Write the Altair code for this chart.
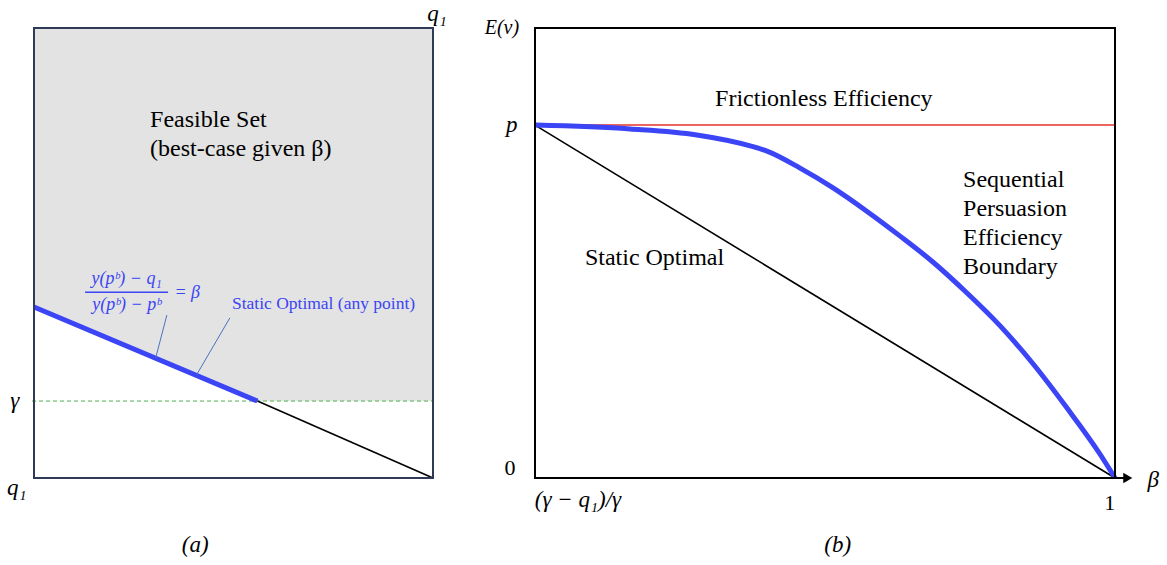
import altair as alt
import pandas as pd

# ---------------- data (chart units) ----------------
# Panel (a): x in [0,1] across the box, y in [0,1] from q1 (bottom) to top
A_GAMMA = 0.171
A_BLUE_X = [0.0, 0.56]
A_BLUE_Y = [0.38, 0.171]
A_BLACK_X = [0.56, 1.0]
A_BLACK_Y = [0.171, 0.0]
A_AREA_X = [0.0, 0.56, 1.0]
A_AREA_Y = [0.38, 0.171, 0.171]
A_LEAD_X1 = [0.333, 0.491]
A_LEAD_Y1 = [0.362, 0.356]
A_LEAD_X2 = [0.305, 0.408]
A_LEAD_Y2 = [0.267, 0.230]

# Panel (b): x from (gamma-q1)/gamma (0) to 1, y with p = 1
B_YMAX = 1.275
B_P = 1.0
B_STATIC_X = [0.0, 1.0]
B_STATIC_Y = [1.0, 0.0]
B_SEQ_X = [0.0, 0.164, 0.279, 0.371, 0.400, 0.457, 0.514, 0.572, 0.629, 0.686, 0.743, 0.802, 0.859, 0.916, 0.974, 1.0]
B_SEQ_Y = [1.0, 0.989, 0.972, 0.941, 0.926, 0.878, 0.822, 0.756, 0.686, 0.612, 0.527, 0.431, 0.323, 0.201, 0.068, 0.0]

BLUE = "#3b45f5"
SERIF = "Liberation Serif"
MATH = "Liberation Serif"

RA_X = [34, 433]
RB_X = [535, 1115]
R_Y = [478, 28]


def xs(panel):
    return alt.Scale(domain=[0, 1], range=RA_X if panel == "a" else RB_X, nice=False, zero=False)


def ys(panel):
    dom = [0, 1] if panel == "a" else [0, B_YMAX]
    return alt.Scale(domain=dom, range=R_Y, nice=False, zero=False)


def enc(panel, x="x", y="y", x2=None, y2=None, order=False):
    e = dict(
        x=alt.X(f"{x}:Q", scale=xs(panel), axis=None),
        y=alt.Y(f"{y}:Q", scale=ys(panel), axis=None),
    )
    if x2:
        e["x2"] = alt.X2(f"{x2}:Q")
    if y2:
        e["y2"] = alt.Y2(f"{y2}:Q")
    if order:
        e["order"] = alt.Order("i:Q")
    return e


def line_df(xv, yv):
    return pd.DataFrame({"x": xv, "y": yv, "i": list(range(len(xv)))})


def text_layer(panel, rows, size, color="black", font=SERIF, style="normal", align="center"):
    df = pd.DataFrame(rows, columns=["x", "y", "t"])
    return alt.Chart(df).mark_text(
        font=font, fontSize=size, color=color, fontStyle=style, align=align, baseline="middle"
    ).encode(text="t:N", **enc(panel))


layers = []

# ---------- panel (a) ----------
area_df = pd.DataFrame({"x": A_AREA_X, "y": A_AREA_Y, "top": [1.0] * len(A_AREA_X)})
layers.append(alt.Chart(area_df).mark_area(color="#e3e3e3").encode(**enc("a", y2="top")))

layers.append(
    alt.Chart(pd.DataFrame({"x": [-0.005], "x2": [1.0], "y": [A_GAMMA]}))
    .mark_rule(color="#4caf50", strokeDash=[4, 3], strokeWidth=1)
    .encode(**enc("a", x2="x2"))
)
layers.append(
    alt.Chart(line_df(A_BLACK_X, A_BLACK_Y)).mark_line(color="black", strokeWidth=1.6).encode(**enc("a", order=True))
)
layers.append(
    alt.Chart(line_df(A_BLUE_X, A_BLUE_Y)).mark_line(color=BLUE, strokeWidth=5).encode(**enc("a", order=True))
)
lead_df = pd.DataFrame({"x": A_LEAD_X1, "y": A_LEAD_Y1, "x2": A_LEAD_X2, "y2": A_LEAD_Y2})
layers.append(alt.Chart(lead_df).mark_rule(color="#4a72c0", strokeWidth=1).encode(**enc("a", x2="x2", y2="y2")))
layers.append(
    alt.Chart(pd.DataFrame({"x": [0.128], "x2": [0.336], "y": [0.413]}))
    .mark_rule(color=BLUE, strokeWidth=1.5)
    .encode(**enc("a", x2="x2"))
)
layers.append(
    alt.Chart(pd.DataFrame({"x": [0.0], "x2": [1.0], "y": [0.0], "y2": [1.0]}))
    .mark_rect(fill=None, fillOpacity=0, stroke="#2e3a57", strokeWidth=2)
    .encode(**enc("a", x2="x2", y2="y2"))
)
layers.append(
    text_layer("a", [(0.291, 0.796, "Feasible Set"), (0.291, 0.731, "(best-case given β)")], 24, align="left")
)
layers.append(
    text_layer(
        "a",
        [(0.232, 0.442, "y(pᵇ) − q₁"), (0.232, 0.385, "y(pᵇ) − pᵇ")],
        18, color=BLUE, font=MATH, style="italic",
    )
)
layers.append(
    text_layer("a", [(0.352, 0.411, "= β")], 18, color=BLUE, font=MATH, style="italic", align="left")
)
layers.append(text_layer("a", [(0.496, 0.387, "Static Optimal (any point)")], 17.5, color=BLUE, align="left"))
layers.append(
    text_layer(
        "a",
        [(1.01, 1.031, "q₁"), (-0.048, 0.171, "γ"), (-0.043, -0.022, "q₁"), (0.404, -0.149, "(a)")],
        23, font=MATH, style="italic",
    )
)

# ---------- panel (b) ----------
layers.append(
    alt.Chart(pd.DataFrame({"x": [0.0], "x2": [1.0], "y": [B_P]}))
    .mark_rule(color="#e8322b", strokeWidth=1.6)
    .encode(**enc("b", x2="x2"))
)
layers.append(
    alt.Chart(line_df(B_STATIC_X, B_STATIC_Y)).mark_line(color="black", strokeWidth=1.6).encode(**enc("b", order=True))
)
layers.append(
    alt.Chart(line_df(B_SEQ_X, B_SEQ_Y))
    .mark_line(color=BLUE, strokeWidth=5, interpolate="monotone")
    .encode(**enc("b", order=True))
)
layers.append(
    alt.Chart(pd.DataFrame({"x": [0.0], "x2": [1.0], "y": [0.0], "y2": [B_YMAX]}))
    .mark_rect(fill=None, fillOpacity=0, stroke="black", strokeWidth=2)
    .encode(**enc("b", x2="x2", y2="y2"))
)
layers.append(
    alt.Chart(pd.DataFrame({"x": [1.0], "x2": [1.02], "y": [0.0]}))
    .mark_rule(color="black", strokeWidth=2)
    .encode(**enc("b", x2="x2"))
)
layers.append(
    alt.Chart(pd.DataFrame({"x": [1.022], "y": [0.0]}))
    .mark_point(shape="triangle-right", filled=True, color="black", size=110, opacity=1)
    .encode(**enc("b"))
)
layers.append(text_layer("b", [(0.498, 1.074, "Frictionless Efficiency")], 24))
layers.append(
    text_layer(
        "b",
        [
            (0.086, 0.623, "Static Optimal"),
            (0.738, 0.844, "Sequential"),
            (0.738, 0.762, "Persuasion"),
            (0.738, 0.680, "Efficiency"),
            (0.738, 0.598, "Boundary"),
        ],
        24, align="left",
    )
)
layers.append(text_layer("b", [(-0.057, 1.275, "E(v)")], 20, font=MATH, style="italic"))
layers.append(
    text_layer(
        "b",
        [(-0.040, 1.0, "p"), (1.066, -0.006, "β"), (0.522, -0.19, "(b)"), (0.074, -0.062, "(γ − q₁)/γ")],
        23, font=MATH, style="italic",
    )
)
layers.append(text_layer("b", [(-0.043, 0.028, "0"), (0.991, -0.071, "1")], 22, font=MATH))

chart = (
    alt.layer(*layers)
    .resolve_scale(x="independent", y="independent")
    .properties(width=1167, height=565, autosize=alt.AutoSizeParams(type="none"), padding=0, background="white")
    .configure_view(stroke=None)
)

chart.save("out.html", embed_options={"renderer": "svg", "actions": False})
